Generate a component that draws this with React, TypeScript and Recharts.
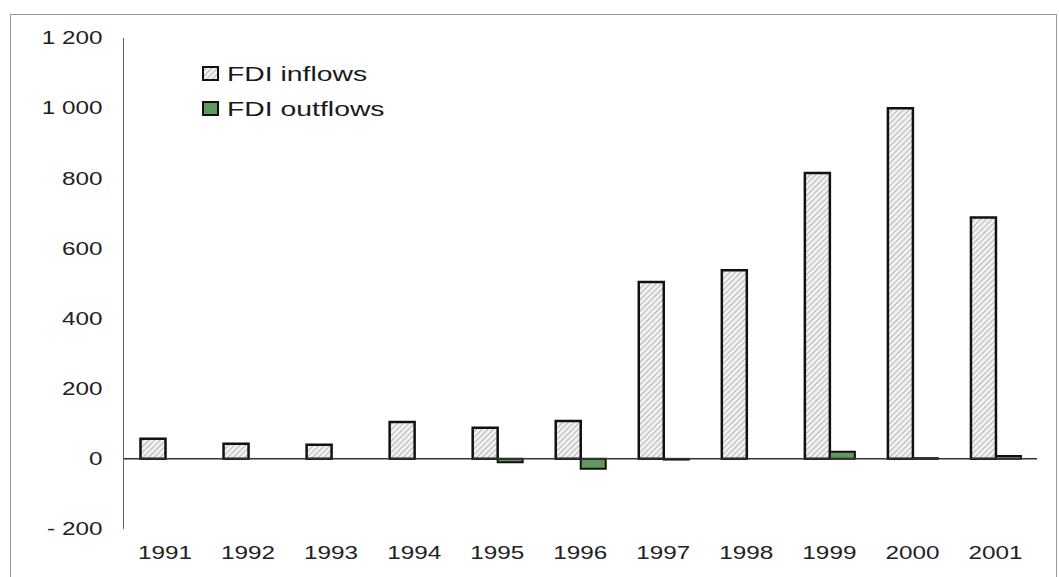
import { BarChart, Bar, XAxis, YAxis, ReferenceLine, Legend } from "recharts";

const years = ["1991", "1992", "1993", "1994", "1995", "1996", "1997", "1998", "1999", "2000", "2001"];
const inflows = [57, 43, 40, 105, 89, 108, 504, 538, 815, 1000, 688];
const outflows = [0, 0, 0, 0, -10, -28, -2, 0, 20, 2, 8];
const yTicks = [-200, 0, 200, 400, 600, 800, 1000, 1200];
const seriesNames = { inflows: "FDI inflows", outflows: "FDI outflows" };

const data = years.map((year, i) => ({ year, inflows: inflows[i], outflows: outflows[i] }));

const FONT = "'Liberation Sans', Arial, sans-serif";
const STRETCH = 1.35;

const fmt = (v: number) => {
    const s = Math.abs(v).toString().replace(/\B(?=(\d{3})+(?!\d))/g, " ");
    return v < 0 ? "- " + s : s;
};

const YTick = ({ x, y, payload }: any) => (
    <text
        x={0}
        y={0}
        transform={`translate(${x},${y}) scale(${STRETCH},1)`}
        textAnchor="end"
        dy="0.35em"
        fontSize={18}
        fontFamily={FONT}
        fill="#222"
    >
        {fmt(payload.value)}
    </text>
);

const XTick = ({ x, y, payload }: any) => (
    <text
        x={0}
        y={0}
        transform={`translate(${x},${y}) scale(${STRETCH},1)`}
        textAnchor="middle"
        dy="0.71em"
        fontSize={18}
        fontFamily={FONT}
        fill="#222"
    >
        {payload.value}
    </text>
);

const LegendBox = ({ payload }: any) => (
    <div style={{ fontFamily: FONT }}>
        {(payload || []).map((entry: any) => (
            <div key={entry.dataKey} style={{ display: "flex", alignItems: "center", height: 35 }}>
                <svg width={17} height={15} style={{ marginRight: 8 }}>
                    <rect
                        x={1}
                        y={1}
                        width={15}
                        height={13}
                        fill={entry.dataKey === "inflows" ? "url(#hatch)" : "#5f9a5c"}
                        stroke="#111"
                        strokeWidth={2}
                    />
                </svg>
                <span
                    style={{
                        fontSize: 21,
                        color: "#1a1a1a",
                        display: "inline-block",
                        transform: `scaleX(${STRETCH})`,
                        transformOrigin: "left center",
                        whiteSpace: "nowrap",
                    }}
                >
                    {entry.value}
                </span>
            </div>
        ))}
    </div>
);

export default function App() {
    return (
        <div style={{ position: "absolute", left: 0, top: 0, width: 1059, height: 577, background: "#fff" }}>
            <div
                style={{
                    position: "absolute",
                    left: 10,
                    top: 14,
                    width: 1045,
                    height: 600,
                    border: "1px solid #9a9a9a",
                }}
            />
            <BarChart
                width={1059}
                height={577}
                data={data}
                margin={{ top: 38, right: 22, left: 0, bottom: 18 }}
                barGap={0}
                barCategoryGap="20%"
            >
                <defs>
                    <pattern
                        id="hatch"
                        patternUnits="userSpaceOnUse"
                        width={4}
                        height={4}
                        patternTransform="rotate(45)"
                    >
                        <rect width={4} height={4} fill="#f1f1f1" />
                        <line x1={0} y1={0} x2={0} y2={4} stroke="#a8a8a8" strokeWidth={1.6} />
                    </pattern>
                </defs>
                <XAxis
                    dataKey="year"
                    axisLine={false}
                    tickLine={false}
                    height={30}
                    tickMargin={11}
                    tick={<XTick />}
                    interval={0}
                />
                <YAxis
                    width={123.5}
                    domain={[-200, 1200]}
                    ticks={yTicks}
                    tickLine={false}
                    axisLine={{ stroke: "#666", strokeWidth: 1 }}
                    tickMargin={15}
                    tick={<YTick />}
                    interval={0}
                />
                <ReferenceLine y={0} stroke="#333" strokeWidth={1.5} />
                <Legend
                    layout="vertical"
                    verticalAlign="middle"
                    align="center"
                    content={<LegendBox />}
                    wrapperStyle={{ left: 202, top: 56, width: 260 }}
                />
                <Bar
                    dataKey="inflows"
                    name={seriesNames.inflows}
                    fill="url(#hatch)"
                    stroke="#111"
                    strokeWidth={2.5}
                    barSize={25}
                    isAnimationActive={false}
                />
                <Bar
                    dataKey="outflows"
                    name={seriesNames.outflows}
                    fill="#5f9a5c"
                    stroke="#111"
                    strokeWidth={2}
                    barSize={25}
                    isAnimationActive={false}
                />
            </BarChart>
        </div>
    );
}
